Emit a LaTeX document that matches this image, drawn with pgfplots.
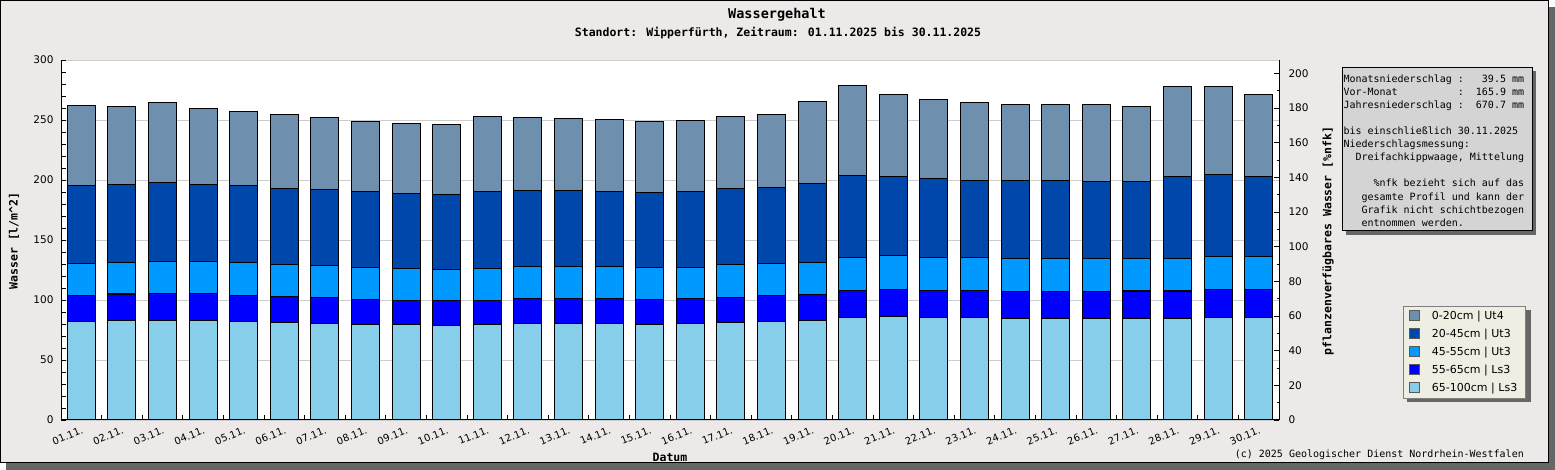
\documentclass[border=0pt]{standalone}
\usepackage{fontspec}
\setmainfont{DejaVu Sans}
\newfontfamily\mono{DejaVu Sans Mono}
\usepackage{pgfplots}
\pgfplotsset{compat=1.18}
\usepackage{pgfplotstable}

\definecolor{bgc}{HTML}{EDE9E8}
\definecolor{shd}{HTML}{666666}
\definecolor{cA}{HTML}{6F8FAF}
\definecolor{cB}{HTML}{0047AB}
\definecolor{cC}{HTML}{0099FF}
\definecolor{cD}{HTML}{0000FF}
\definecolor{cE}{HTML}{87CEEB}
\definecolor{legbg}{HTML}{EEEEE2}
\definecolor{boxbg}{HTML}{D4D4D4}

% cumulative tops of the layers (l/m^2)
\pgfplotstableread{
day top d20 d45 d55 d65
1 262.2 195.6 130.6 103.9 81.9
2 261.4 196.4 131.4 105.0 82.8
3 264.7 198.1 132.2 105.5 82.8
4 259.7 196.4 132.2 105.5 82.8
5 257.2 195.6 131.4 103.9 81.9
6 254.7 192.8 129.7 103.1 81.1
7 252.2 192.2 128.9 102.2 80.6
8 248.9 190.6 127.2 100.6 79.7
9 247.2 188.9 126.1 99.7 79.7
10 246.4 188.1 125.3 99.7 78.9
11 253.1 190.6 126.1 99.7 79.7
12 252.2 191.4 128.1 101.4 80.6
13 251.4 191.4 128.1 101.4 80.6
14 250.6 190.6 128.1 101.4 80.6
15 248.9 189.7 127.2 100.6 79.7
16 249.7 190.6 127.2 101.4 80.6
17 253.1 193.1 129.7 102.2 81.4
18 254.7 193.9 130.6 103.9 82.2
19 265.5 197.2 131.4 104.7 83.1
20 278.9 203.9 135.6 108.1 85.6
21 271.4 203.1 137.2 108.9 86.4
22 267.2 201.4 135.6 108.1 85.6
23 264.7 199.7 135.6 108.1 85.6
24 263.1 199.7 134.7 107.2 84.7
25 263.1 199.7 134.7 107.2 84.7
26 263.1 198.9 134.7 107.2 84.7
27 261.4 198.9 134.7 107.5 84.7
28 278.1 202.8 134.7 107.5 84.7
29 278.1 204.7 136.4 108.9 85.6
30 271.4 202.8 136.4 108.9 85.6
}\datatable

\begin{document}
\begin{tikzpicture}[x=1pt,y=1pt]
\path[use as bounding box] (0,0) rectangle (1555,470);
% outer frame with shadow
\fill[shd] (6,0) rectangle (1555,463);
\filldraw[fill=bgc, draw=black, line width=1pt] (0.5,7) rectangle (1548.5,469.5);

% titles
\node[font=\mono\bfseries\fontsize{13.5}{15}\selectfont] at (777,455) {Wassergehalt};
\node[font=\mono\bfseries\fontsize{11.5}{13}\selectfont] at (778,437) {Standort: Wipperfürth, Zeitraum: 01.11.2025 bis 30.11.2025};

% legend shadow
\fill[shd] (1407,68) rectangle (1531,160);

\begin{axis}[
  at={(61pt,50pt)}, anchor=south west, scale only axis,
  width=1218pt, height=360pt,
  xmin=0.5, xmax=30.5, ymin=0, ymax=300,
  ybar,
  axis x line*=bottom, axis y line*=left,
  axis line style={black, line width=1pt},
  axis background/.style={fill=white},
  tick align=inside,
  xtick={1,...,30},
  xticklabels={01.11.,02.11.,03.11.,04.11.,05.11.,06.11.,07.11.,08.11.,09.11.,10.11.,11.11.,12.11.,13.11.,14.11.,15.11.,16.11.,17.11.,18.11.,19.11.,20.11.,21.11.,22.11.,23.11.,24.11.,25.11.,26.11.,27.11.,28.11.,29.11.,30.11.},
  major x tick style={draw=none},
  minor xtick={1.5,2.5,...,29.5},
  ytick={0,50,...,300},
  minor y tick num=4,
  major tick length=5pt, minor tick length=4.5pt,
  tick style={black, line width=0.8pt},
  ymajorgrids, grid style={draw=gray!40, line width=0.8pt},
  /pgf/number format/assume math mode=true,
  yticklabel style={font=\fontsize{10.5}{12}\selectfont, xshift=-4pt},
  xticklabel style={font=\fontsize{10}{12}\selectfont, rotate=22, anchor=north east, inner sep=0.5pt, yshift=-5pt, xshift=-2pt},
  legend style={at={(1.1018,0.3167)}, anchor=north west, fill=legbg, draw=gray,
    line width=0.8pt,
    inner xsep=6pt, inner ysep=3pt, row sep=4pt,
    /tikz/every odd column/.append style={column sep=10pt},
    nodes={inner sep=2pt, text height=8pt, text depth=2pt, font=\fontsize{11}{13}\selectfont}},
  legend cell align=left,
]
\pgfplotsset{legend image code/.code={\draw[#1, draw=gray!70!black, line width=0.6pt] (0pt,-4pt) rectangle (10pt,6pt);}}
\addplot[bar shift=0pt, bar width=28pt, fill=cA, draw=black, line width=1.1pt] table[x=day,y=top] {\datatable};
\addplot[bar shift=0pt, bar width=28pt, fill=cB, draw=black, line width=1.1pt] table[x=day,y=d20] {\datatable};
\addplot[bar shift=0pt, bar width=28pt, fill=cC, draw=black, line width=1.1pt] table[x=day,y=d45] {\datatable};
\addplot[bar shift=0pt, bar width=28pt, fill=cD, draw=black, line width=1.1pt] table[x=day,y=d55] {\datatable};
\addplot[bar shift=0pt, bar width=28pt, fill=cE, draw=black, line width=1.1pt] table[x=day,y=d65] {\datatable};
\legend{0-20cm | Ut4, 20-45cm | Ut3, 45-55cm | Ut3, 55-65cm | Ls3, 65-100cm | Ls3}
\end{axis}

\begin{axis}[
  at={(61pt,50pt)}, anchor=south west, scale only axis,
  width=1218pt, height=360pt,
  xmin=0.5, xmax=30.5, ymin=0, ymax=207.7,
  hide x axis,
  axis y line*=right,
  axis line style={black, line width=1pt},
  tick align=inside,
  ytick={0,20,...,200},
  minor y tick num=1,
  major tick length=5pt, minor tick length=2.5pt,
  tick style={black, line width=0.8pt},
  /pgf/number format/assume math mode=true,
  yticklabel style={font=\fontsize{10.5}{12}\selectfont, xshift=6pt},
]
\end{axis}

% axis labels
\node[rotate=90, font=\mono\bfseries\fontsize{11.5}{13}\selectfont] at (14,229) {Wasser [l/m\^{}2]};
\node[rotate=90, font=\mono\bfseries\fontsize{11.5}{13}\selectfont] at (1328,229) {pflanzenverfügbares Wasser [\%nfk]};
\node[font=\mono\bfseries\fontsize{11.5}{13}\selectfont] at (670,13) {Datum};
\node[anchor=east, font=\mono\fontsize{10}{12}\selectfont, inner sep=0pt] at (1524,15) {(c) 2025 Geologischer Dienst Nordrhein-Westfalen};

% info box
\fill[shd] (1346,235.3) rectangle (1536,398.7);
\filldraw[fill=boxbg, draw=black, line width=1pt] (1342,239.3) rectangle (1532,402.7);
\begin{scope}[every node/.style={anchor=base west, inner sep=0pt, font=\mono\fontsize{10}{12}\selectfont}]
\node at (1343.3,387.4) {Monatsniederschlag~:~~~39.5~mm};
\node at (1343.3,374.35) {Vor-Monat~~~~~~~~~~:~~165.9~mm};
\node at (1343.3,361.3) {Jahresniederschlag~:~~670.7~mm};
\node at (1343.3,335.2) {bis einschließlich 30.11.2025};
\node at (1343.3,322.15) {Niederschlagsmessung:};
\node at (1343.3,309.1) {~~Dreifachkippwaage,~Mittelung};
\node at (1343.3,283.0) {~~~~~\%nfk~bezieht~sich~auf~das};
\node at (1343.3,269.95) {~~~gesamte~Profil~und~kann~der};
\node at (1343.3,256.9) {~~~Grafik~nicht~schichtbezogen};
\node at (1343.3,243.85) {~~~entnommen~werden.};
\end{scope}
\end{tikzpicture}
\end{document}
